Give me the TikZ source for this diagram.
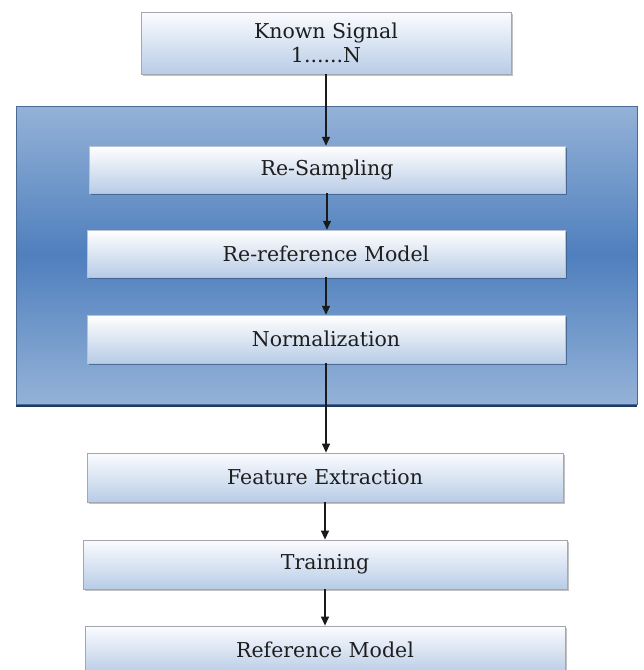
\documentclass[tikz,border=0pt]{standalone}
\usepackage{fontspec}
\setmainfont{DejaVu Serif}
\usetikzlibrary{arrows.meta,shadows}
\definecolor{boxtop}{HTML}{FBFCFF}
\definecolor{boxbot}{HTML}{B8CCE6}
\definecolor{boxline}{HTML}{A4A8AE}
\definecolor{contlight}{HTML}{94B2D8}
\definecolor{contdark}{HTML}{4F7FBD}
\definecolor{contline}{HTML}{4A6A96}
\definecolor{contshadow}{HTML}{1F3A60}
\definecolor{innshadow}{HTML}{3F5E88}
\definecolor{arrowcol}{HTML}{1A1A1A}
\definecolor{txt}{HTML}{1E1E1E}
\tikzset{
  lbl/.style={font=\fontsize{20.5}{24}\selectfont, text=txt, align=center, inner sep=0pt},
  outbox/.style={lbl, draw=boxline, line width=0.8pt, top color=boxtop, bottom color=boxbot,
    drop shadow={shadow xshift=1.5pt, shadow yshift=-2pt, fill=black!40, opacity=0.6}},
  innbox/.style={lbl, draw=contline!40, line width=0.5pt, top color=white, bottom color=boxbot,
    drop shadow={shadow xshift=1.5pt, shadow yshift=-2pt, fill=innshadow, opacity=0.8}},
  contbox/.style={draw=contline, line width=0.8pt, top color=contlight, bottom color=contlight, middle color=contdark,
    drop shadow={shadow xshift=0pt, shadow yshift=-2.5pt, fill=contshadow, opacity=1}},
  flow/.style={draw=arrowcol, line width=1.3pt, -{Triangle[length=9pt,width=8pt]}}
}
\begin{document}
\begin{tikzpicture}[x=1pt,y=-1pt]
\useasboundingbox[fill=white] (0,0) rectangle (644,670);
\node[contbox, minimum width=621pt, minimum height=298pt] (cont) at (326.5,255) {};
\node[outbox, minimum width=370pt, minimum height=62pt] (ks) at (326,43) {Known Signal\\1......N};
\node[innbox, minimum width=476pt, minimum height=47pt] (rs) at (327,169.5) {Re-Sampling};
\node[innbox, minimum width=478pt, minimum height=47pt] (rr) at (326,253.5) {Re-reference Model};
\node[innbox, minimum width=478pt, minimum height=48pt] (nm) at (326,339) {Normalization};
\node[outbox, minimum width=476pt, minimum height=49pt] (fe) at (325,477.5) {Feature Extraction};
\node[outbox, minimum width=484pt, minimum height=49pt] (tr) at (325,564.5) {Training};
\node[outbox, minimum width=480pt, minimum height=48pt] (rm) at (325,650) {Reference Model};
\draw[flow] (ks.south) -- (ks.south |- rs.north);
\draw[flow] (rs.south) -- (rs.south |- rr.north);
\draw[flow] (rr.south) -- (rr.south |- nm.north);
\draw[flow] (nm.south) -- (nm.south |- fe.north);
\draw[flow] (fe.south) -- (fe.south |- tr.north);
\draw[flow] (tr.south) -- (tr.south |- rm.north);
\end{tikzpicture}
\end{document}
